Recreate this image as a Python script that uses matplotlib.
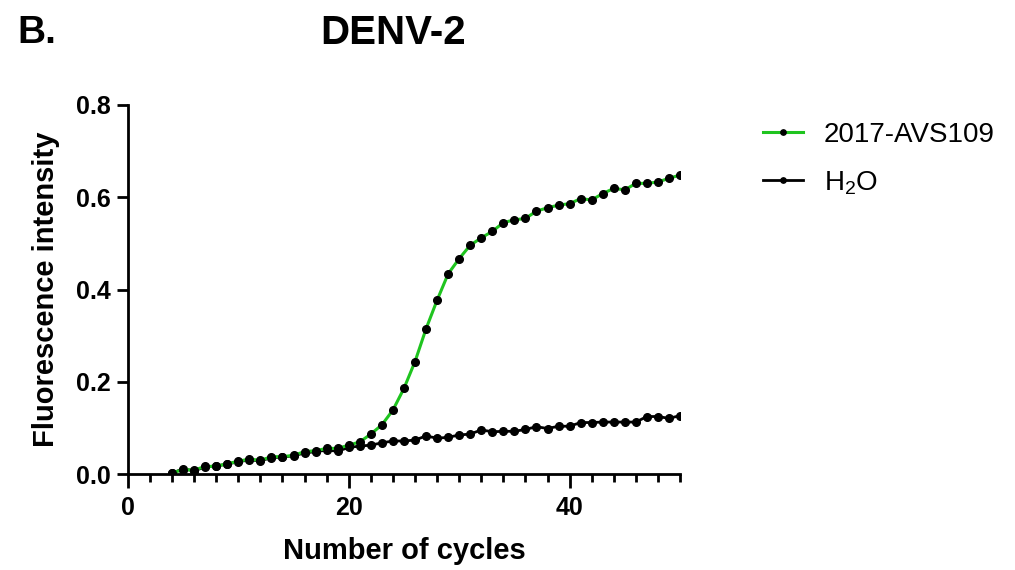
import matplotlib
matplotlib.use("Agg")
import matplotlib.pyplot as plt
from matplotlib.ticker import MultipleLocator

plt.rcParams['font.family'] = ['Liberation Sans', 'DejaVu Sans']
plt.rcParams['mathtext.fontset'] = 'custom'
plt.rcParams['mathtext.rm'] = 'Liberation Sans'

# cycles 4..50
cycles = list(range(4, 51))

# 2017-AVS109 sample
avs109 = [0.003, 0.010, 0.009, 0.017, 0.017, 0.023, 0.028, 0.033, 0.030, 0.038,
          0.038, 0.041, 0.049, 0.051, 0.056, 0.056, 0.063, 0.070, 0.087, 0.107,
          0.139, 0.186, 0.244, 0.315, 0.377, 0.434, 0.467, 0.496, 0.512, 0.526,
          0.545, 0.551, 0.554, 0.570, 0.577, 0.583, 0.586, 0.597, 0.594, 0.608,
          0.619, 0.616, 0.630, 0.630, 0.633, 0.641, 0.648]

# water control
h2o = [0.002, 0.012, 0.007, 0.016, 0.018, 0.022, 0.027, 0.031, 0.029, 0.036,
       0.037, 0.040, 0.046, 0.049, 0.052, 0.050, 0.058, 0.061, 0.063, 0.068,
       0.072, 0.072, 0.074, 0.083, 0.078, 0.080, 0.085, 0.087, 0.096, 0.092,
       0.093, 0.093, 0.097, 0.103, 0.099, 0.104, 0.104, 0.112, 0.112, 0.113,
       0.113, 0.113, 0.113, 0.125, 0.125, 0.121, 0.127]

green = '#1fc41f'

fig = plt.figure(figsize=(10.15, 5.7), dpi=100)
ax = fig.add_axes([0.126, 0.168, 0.544, 0.648])

ax.plot(cycles, h2o, color='black', lw=2.0, marker='o', ms=5.5,
        mfc='black', mec='black', label=r'H$_\mathregular{2}$O', zorder=2)
ax.plot(cycles, avs109, color=green, lw=2.2, marker='o', ms=5.5,
        mfc='black', mec='black', label='2017-AVS109', zorder=3)

ax.set_xlim(0, 50)
ax.set_ylim(0, 0.8)
ax.xaxis.set_major_locator(MultipleLocator(20))
ax.xaxis.set_minor_locator(MultipleLocator(2))
ax.yaxis.set_major_locator(MultipleLocator(0.2))
ax.yaxis.set_major_formatter(matplotlib.ticker.FormatStrFormatter('%.1f'))

for spine in ('top', 'right'):
    ax.spines[spine].set_visible(False)
for spine in ('left', 'bottom'):
    ax.spines[spine].set_linewidth(2.0)

ax.tick_params(which='major', width=2.0, labelsize=18)
ax.tick_params(axis='x', which='major', length=10, pad=6)
ax.tick_params(axis='y', which='major', length=8, pad=4)
ax.tick_params(which='minor', length=5.5, width=2.0)
for lab in ax.get_xticklabels() + ax.get_yticklabels():
    lab.set_fontweight('bold')

ax.set_xlabel('Number of cycles', fontsize=21, fontweight='bold', labelpad=12)
ax.set_ylabel('Fluorescence intensity', fontsize=21, fontweight='bold', labelpad=12)

fig.text(0.387, 0.942, 'DENV-2', fontsize=29, fontweight='bold', ha='center', va='center')
fig.text(0.017, 0.942, 'B.', fontsize=28, fontweight='bold', ha='left', va='center')

handles, labels = ax.get_legend_handles_labels()
leg = fig.legend(handles[::-1], labels[::-1], loc='upper left',
                 bbox_to_anchor=(0.738, 0.81), frameon=False, fontsize=20,
                 handlelength=1.45, handletextpad=0.75, labelspacing=0.75,
                 borderpad=0, markerscale=0.7)

fig.savefig('out.png', dpi=100)
